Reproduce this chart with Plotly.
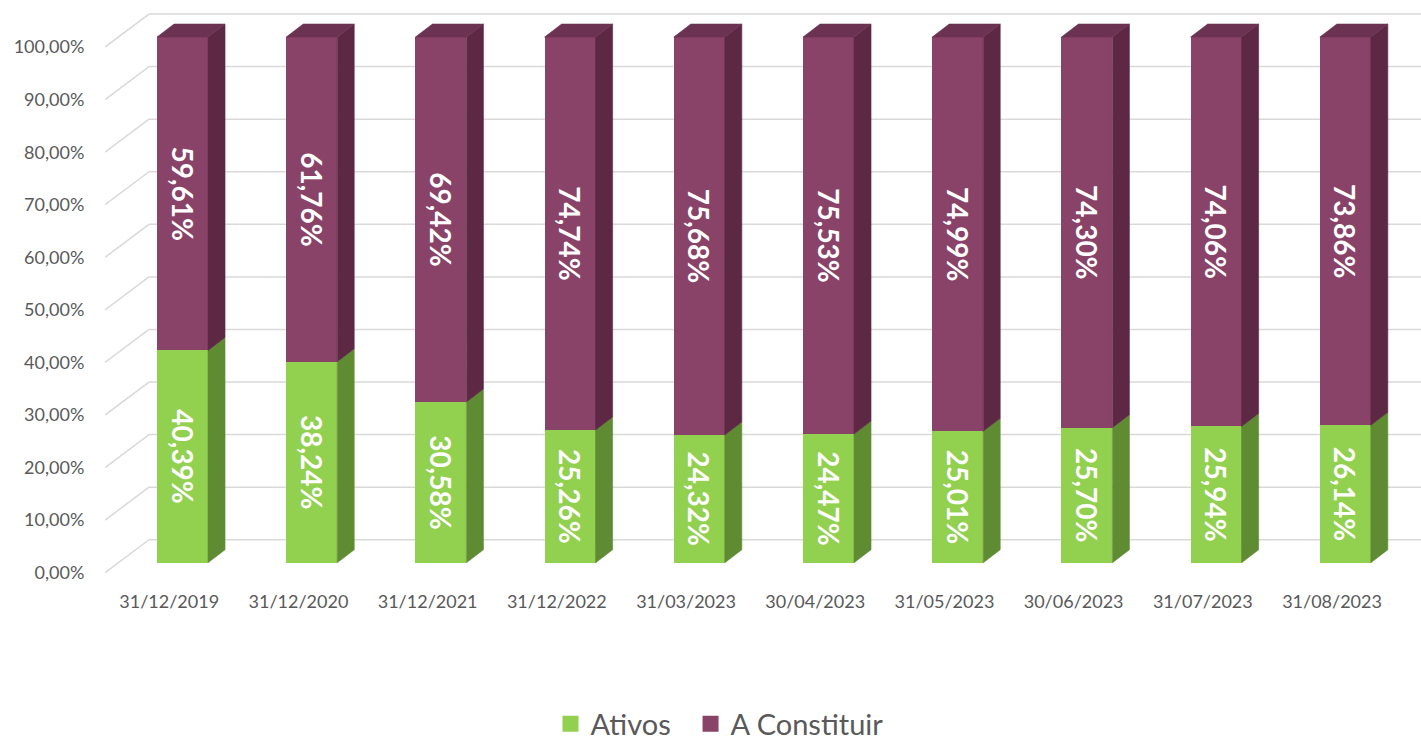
import plotly.graph_objects as go

# ---------------- data ----------------
categories = ["31/12/2019", "31/12/2020", "31/12/2021", "31/12/2022", "31/03/2023",
              "30/04/2023", "31/05/2023", "30/06/2023", "31/07/2023", "31/08/2023"]
ativos = [40.39, 38.24, 30.58, 25.26, 24.32, 24.47, 25.01, 25.70, 25.94, 26.14]
a_constituir = [59.61, 61.76, 69.42, 74.74, 75.68, 75.53, 74.99, 74.30, 74.06, 73.86]
y_ticks = [0, 10, 20, 30, 40, 50, 60, 70, 80, 90, 100]
series_names = ["Ativos", "A Constituir"]

# ---------------- styling / pseudo-3D geometry ----------------
GREEN, GREEN_SIDE = "#92D050", "#5F8B32"
PURPLE, PURPLE_SIDE, PURPLE_TOP = "#8A4368", "#5D2844", "#6C3252"
GRID = "#D9D9D9"
TXT = "#595959"
FONT = "Lato"

PX_X = 129.2          # pixels per category
PX_Y = 5.257          # pixels per percent
BAR_W = 51 / PX_X
DEPTH_DX = 17 / PX_X  # bar depth (x offset)
DEPTH_DY = 13 / PX_Y  # bar depth (y offset)
FRONT_DX = -13.3 / PX_X   # front plane relative to bar front
FRONT_DY = -10 / PX_Y
WALL_DX = 44 / PX_X       # front plane -> back wall
WALL_DY = 33 / PX_Y
X_MIN = -0.6
X_MAX = X_MIN + 1316 / PX_X
Y_MIN = -1.95
Y_MAX = Y_MIN + 563 / PX_Y

idx = list(range(len(categories)))

fig = go.Figure()

# front faces
fig.add_trace(go.Bar(
    x=idx, y=ativos, width=BAR_W, marker=dict(color=GREEN, line=dict(width=0)),
    texttemplate="%{y:.2f}%", textposition="inside", insidetextanchor="middle",
    textangle=90, textfont=dict(color="white", size=28, family=FONT, weight="bold"),
    showlegend=False, hoverinfo="skip"))
fig.add_trace(go.Bar(
    x=idx, y=a_constituir, width=BAR_W, marker=dict(color=PURPLE, line=dict(width=0)),
    texttemplate="%{y:.2f}%", textposition="inside", insidetextanchor="middle",
    textangle=90, textfont=dict(color="white", size=28, family=FONT, weight="bold"),
    showlegend=False, hoverinfo="skip"))


def side_polys(lows, highs):
    xs, ys = [], []
    for i, lo, hi in zip(idx, lows, highs):
        xr = i + BAR_W / 2
        xs += [xr, xr + DEPTH_DX, xr + DEPTH_DX, xr, xr, None]
        ys += [lo, lo + DEPTH_DY, hi + DEPTH_DY, hi, lo, None]
    return xs, ys


def top_polys(tops):
    xs, ys = [], []
    for i, t in zip(idx, tops):
        xl, xr = i - BAR_W / 2, i + BAR_W / 2
        xs += [xl, xr, xr + DEPTH_DX, xl + DEPTH_DX, xl, None]
        ys += [t, t, t + DEPTH_DY, t + DEPTH_DY, t, None]
    return xs, ys


tops = [a + b for a, b in zip(ativos, a_constituir)]
gx, gy = side_polys([0] * len(idx), ativos)
px_, py_ = side_polys(ativos, tops)
tx, ty = top_polys(tops)
for xs, ys, col in [(gx, gy, GREEN_SIDE), (px_, py_, PURPLE_SIDE), (tx, ty, PURPLE_TOP)]:
    fig.add_trace(go.Scatter(x=xs, y=ys, mode="lines", fill="toself", fillcolor=col,
                             line=dict(width=0.6, color=col), showlegend=False,
                             hoverinfo="skip"))

# legend entries (non-breaking spaces widen the gap between entries)
legend_labels = [series_names[0] + "\u00a0\u00a0", series_names[1]]
for name, col in zip(legend_labels, [GREEN, PURPLE]):
    fig.add_trace(go.Scatter(x=[None], y=[None], mode="markers", name=name,
                             marker=dict(symbol="square", size=16, color=col)))

# gridlines (left wall diagonal + back wall)
shapes = []
for v in y_ticks:
    y0 = v + FRONT_DY
    y1 = y0 + WALL_DY
    shapes.append(dict(type="line", xref="x", yref="y", layer="below",
                       x0=X_MIN, y0=y0, x1=X_MIN + WALL_DX, y1=y1,
                       line=dict(color=GRID, width=1.5)))
    shapes.append(dict(type="line", xref="x", yref="y", layer="below",
                       x0=X_MIN + WALL_DX, y0=y1, x1=X_MAX, y1=y1,
                       line=dict(color=GRID, width=1.5)))


def pct(v):
    return f"{v:.2f}".replace(".", ",") + "%"


fig.update_layout(
    width=1421, height=740,
    margin=dict(l=105, r=0, t=10, b=167),
    paper_bgcolor="white", plot_bgcolor="white",
    barmode="stack", separators=",.",
    shapes=shapes,
    font=dict(family=FONT, color=TXT),
    xaxis=dict(range=[X_MIN, X_MAX], tickvals=[i + FRONT_DX for i in idx],
               ticktext=categories, showgrid=False, zeroline=False, showline=False,
               ticks="outside", ticklen=12, tickcolor="rgba(0,0,0,0)",
               tickfont=dict(size=18, color=TXT, family=FONT)),
    yaxis=dict(range=[Y_MIN, Y_MAX], tickvals=[v + FRONT_DY for v in y_ticks],
               ticktext=[pct(v) for v in y_ticks], showgrid=False, zeroline=False,
               showline=False, ticks="outside", ticklen=16, tickcolor="rgba(0,0,0,0)",
               tickfont=dict(size=18, color=TXT, family=FONT)),
    legend=dict(orientation="h", traceorder="normal",
                x=(719.5 - 105) / 1316, xanchor="center",
                xref="paper", yref="container", y=16 / 740, yanchor="middle",
                font=dict(size=29, color=TXT, family=FONT)),
)

fig.write_html("out.html")
